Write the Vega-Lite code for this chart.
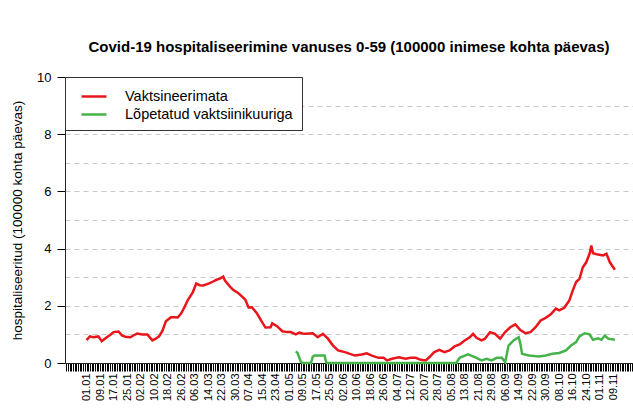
{
  "$schema": "https://vega.github.io/schema/vega-lite/v6.json",
  "width": 568,
  "height": 286,
  "autosize": {"type": "none"},
  "padding": {"left": 65, "top": 77, "right": 0, "bottom": 49},
  "background": "white",
  "title": {
    "text": "Covid-19 hospitaliseerimine vanuses 0-59 (100000 inimese kohta päevas)",
    "fontSize": 15,
    "fontWeight": "bold",
    "font": "Liberation Sans",
    "color": "black",
    "anchor": "middle",
    "offset": 16
  },
  "config": {
    "view": {"stroke": null},
    "font": "Liberation Sans"
  },
  "datasets": {
    "u": [
      {"d": "2021-01-01", "v": 0.8}, {"d": "2021-01-03", "v": 0.93}, {"d": "2021-01-05", "v": 0.9},
      {"d": "2021-01-08", "v": 0.93}, {"d": "2021-01-10", "v": 0.76}, {"d": "2021-01-13", "v": 0.9},
      {"d": "2021-01-15", "v": 0.98}, {"d": "2021-01-17", "v": 1.08}, {"d": "2021-01-20", "v": 1.1},
      {"d": "2021-01-22", "v": 0.96}, {"d": "2021-01-24", "v": 0.92}, {"d": "2021-01-27", "v": 0.9},
      {"d": "2021-01-29", "v": 0.97}, {"d": "2021-01-31", "v": 1.03}, {"d": "2021-02-03", "v": 1.0},
      {"d": "2021-02-06", "v": 1.0}, {"d": "2021-02-09", "v": 0.79}, {"d": "2021-02-11", "v": 0.85},
      {"d": "2021-02-13", "v": 0.93}, {"d": "2021-02-15", "v": 1.13}, {"d": "2021-02-17", "v": 1.46},
      {"d": "2021-02-20", "v": 1.6}, {"d": "2021-02-22", "v": 1.6}, {"d": "2021-02-24", "v": 1.59},
      {"d": "2021-02-26", "v": 1.73}, {"d": "2021-02-28", "v": 1.95}, {"d": "2021-03-02", "v": 2.2},
      {"d": "2021-03-05", "v": 2.48}, {"d": "2021-03-07", "v": 2.78}, {"d": "2021-03-09", "v": 2.72},
      {"d": "2021-03-11", "v": 2.71}, {"d": "2021-03-13", "v": 2.75}, {"d": "2021-03-15", "v": 2.79},
      {"d": "2021-03-17", "v": 2.85}, {"d": "2021-03-19", "v": 2.91}, {"d": "2021-03-21", "v": 2.95},
      {"d": "2021-03-23", "v": 3.02}, {"d": "2021-03-24", "v": 2.88}, {"d": "2021-03-27", "v": 2.67},
      {"d": "2021-03-29", "v": 2.55}, {"d": "2021-04-01", "v": 2.44}, {"d": "2021-04-03", "v": 2.33},
      {"d": "2021-04-05", "v": 2.22}, {"d": "2021-04-07", "v": 1.94}, {"d": "2021-04-09", "v": 1.95},
      {"d": "2021-04-12", "v": 1.73}, {"d": "2021-04-15", "v": 1.43}, {"d": "2021-04-17", "v": 1.24},
      {"d": "2021-04-20", "v": 1.25}, {"d": "2021-04-21", "v": 1.39}, {"d": "2021-04-24", "v": 1.28},
      {"d": "2021-04-27", "v": 1.11}, {"d": "2021-04-30", "v": 1.08}, {"d": "2021-05-02", "v": 1.08},
      {"d": "2021-05-05", "v": 1.0}, {"d": "2021-05-07", "v": 1.06}, {"d": "2021-05-09", "v": 1.03},
      {"d": "2021-05-11", "v": 1.02}, {"d": "2021-05-13", "v": 1.03}, {"d": "2021-05-15", "v": 1.04},
      {"d": "2021-05-18", "v": 0.9}, {"d": "2021-05-21", "v": 1.02}, {"d": "2021-05-24", "v": 0.85},
      {"d": "2021-05-27", "v": 0.61}, {"d": "2021-05-30", "v": 0.44}, {"d": "2021-06-03", "v": 0.38},
      {"d": "2021-06-06", "v": 0.32}, {"d": "2021-06-09", "v": 0.26}, {"d": "2021-06-13", "v": 0.3},
      {"d": "2021-06-16", "v": 0.34}, {"d": "2021-06-19", "v": 0.26}, {"d": "2021-06-23", "v": 0.18},
      {"d": "2021-06-26", "v": 0.18}, {"d": "2021-06-28", "v": 0.09}, {"d": "2021-07-01", "v": 0.15},
      {"d": "2021-07-05", "v": 0.2}, {"d": "2021-07-09", "v": 0.15}, {"d": "2021-07-12", "v": 0.18},
      {"d": "2021-07-15", "v": 0.18}, {"d": "2021-07-18", "v": 0.11}, {"d": "2021-07-21", "v": 0.09},
      {"d": "2021-07-23", "v": 0.2}, {"d": "2021-07-26", "v": 0.38}, {"d": "2021-07-29", "v": 0.46},
      {"d": "2021-08-01", "v": 0.38}, {"d": "2021-08-04", "v": 0.44}, {"d": "2021-08-07", "v": 0.58},
      {"d": "2021-08-10", "v": 0.65}, {"d": "2021-08-13", "v": 0.79}, {"d": "2021-08-16", "v": 0.9},
      {"d": "2021-08-18", "v": 1.02}, {"d": "2021-08-20", "v": 0.88}, {"d": "2021-08-23", "v": 0.79},
      {"d": "2021-08-25", "v": 0.85}, {"d": "2021-08-28", "v": 1.08}, {"d": "2021-08-31", "v": 1.02},
      {"d": "2021-09-03", "v": 0.85}, {"d": "2021-09-06", "v": 1.08}, {"d": "2021-09-09", "v": 1.25},
      {"d": "2021-09-12", "v": 1.35}, {"d": "2021-09-15", "v": 1.15}, {"d": "2021-09-18", "v": 1.04},
      {"d": "2021-09-21", "v": 1.08}, {"d": "2021-09-24", "v": 1.25}, {"d": "2021-09-27", "v": 1.49},
      {"d": "2021-09-30", "v": 1.58}, {"d": "2021-10-03", "v": 1.7}, {"d": "2021-10-06", "v": 1.9},
      {"d": "2021-10-08", "v": 1.84}, {"d": "2021-10-11", "v": 1.93}, {"d": "2021-10-14", "v": 2.19},
      {"d": "2021-10-16", "v": 2.53}, {"d": "2021-10-18", "v": 2.83}, {"d": "2021-10-20", "v": 2.94},
      {"d": "2021-10-22", "v": 3.35}, {"d": "2021-10-24", "v": 3.52}, {"d": "2021-10-26", "v": 3.82},
      {"d": "2021-10-27", "v": 4.11}, {"d": "2021-10-28", "v": 3.84}, {"d": "2021-10-31", "v": 3.79},
      {"d": "2021-11-03", "v": 3.76}, {"d": "2021-11-05", "v": 3.82}, {"d": "2021-11-07", "v": 3.52},
      {"d": "2021-11-10", "v": 3.26}
    ],
    "f": [
      {"d": "2021-05-05", "v": 0.41}, {"d": "2021-05-06", "v": 0.35}, {"d": "2021-05-08", "v": 0.04},
      {"d": "2021-05-09", "v": 0}, {"d": "2021-05-14", "v": 0}, {"d": "2021-05-15", "v": 0.22},
      {"d": "2021-05-16", "v": 0.26}, {"d": "2021-05-22", "v": 0.26}, {"d": "2021-05-23", "v": 0.02},
      {"d": "2021-05-24", "v": 0}, {"d": "2021-08-08", "v": 0}, {"d": "2021-08-10", "v": 0.18},
      {"d": "2021-08-15", "v": 0.3}, {"d": "2021-08-20", "v": 0.18}, {"d": "2021-08-23", "v": 0.09},
      {"d": "2021-08-26", "v": 0.15}, {"d": "2021-08-29", "v": 0.09}, {"d": "2021-09-01", "v": 0.18},
      {"d": "2021-09-04", "v": 0.18}, {"d": "2021-09-06", "v": 0.03}, {"d": "2021-09-08", "v": 0.61},
      {"d": "2021-09-11", "v": 0.79}, {"d": "2021-09-14", "v": 0.9}, {"d": "2021-09-15", "v": 0.67},
      {"d": "2021-09-16", "v": 0.32}, {"d": "2021-09-20", "v": 0.26}, {"d": "2021-09-26", "v": 0.23},
      {"d": "2021-09-30", "v": 0.26}, {"d": "2021-10-04", "v": 0.32}, {"d": "2021-10-08", "v": 0.35},
      {"d": "2021-10-12", "v": 0.44}, {"d": "2021-10-15", "v": 0.61}, {"d": "2021-10-18", "v": 0.73},
      {"d": "2021-10-20", "v": 0.93}, {"d": "2021-10-23", "v": 1.04}, {"d": "2021-10-26", "v": 1.0},
      {"d": "2021-10-28", "v": 0.81}, {"d": "2021-10-31", "v": 0.86}, {"d": "2021-11-02", "v": 0.81},
      {"d": "2021-11-04", "v": 0.96}, {"d": "2021-11-06", "v": 0.85}, {"d": "2021-11-10", "v": 0.81}
    ]
  },
  "encoding": {
    "x": {
      "field": "d",
      "type": "temporal",
      "scale": {
        "type": "utc",
        "domain": [
          {"year": 2020, "month": 12, "date": 19, "hours": 6, "utc": true},
          {"year": 2021, "month": 11, "date": 20, "hours": 17, "utc": true}
        ]
      },
      "axis": {
        "title": null,
        "grid": false,
        "ticks": true,
        "tickCount": 400,
        "labelOverlap": false,
        "labelBound": false,
        "labelFlush": false,
        "labelAngle": -90,
        "labelFontSize": 11,
        "labelColor": "black",
        "labelPadding": 2,
        "tickSize": 8,
        "tickWidth": 1,
        "tickColor": "black",
        "domainColor": "#222222",
        "labelExpr": "(datum.value >= utc(2021,0,1) && datum.value <= utc(2021,10,10) && round((datum.value - utc(2021,0,1)) / 86400000) % 8 == 0) ? utcFormat(datum.value, '%d.%m') : ''"
      }
    },
    "y": {
      "field": "v",
      "type": "quantitative",
      "scale": {"domain": [0, 10], "nice": false},
      "axis": {
        "title": "hospitaliseeritud (100000 kohta päevas)",
        "titleFontSize": 13.5,
        "titleFontWeight": "normal",
        "titleColor": "black",
        "titleX": -48,
        "titleY": 143,
        "titleAngle": -90,
        "titleAlign": "center",
        "titleBaseline": "middle",
        "values": [0, 1, 2, 3, 4, 5, 6, 7, 8, 9, 10],
        "labelExpr": "datum.value % 2 == 0 ? datum.label : ''",
        "labelFontSize": 13,
        "labelColor": "black",
        "labelPadding": 6,
        "tickSize": 8,
        "tickColor": "black",
        "domainColor": "#222222",
        "tickOpacity": {"condition": {"test": "datum.value % 2 == 1", "value": 0}, "value": 1},
        "grid": true,
        "gridColor": "#c8c8c8",
        "gridDash": [5, 4],
        "gridOpacity": {"condition": {"test": "datum.value == 0 || datum.value == 10", "value": 0}, "value": 1}
      }
    }
  },
  "layer": [
    {
      "data": {"name": "u"},
      "mark": {"type": "line", "strokeWidth": 2.5},
      "encoding": {
        "color": {
          "datum": "Vaktsineerimata",
          "type": "nominal",
          "scale": {"domain": ["Vaktsineerimata", "Lõpetatud vaktsiinikuuriga"], "range": ["#e8161b", "#46b34a"]},
          "legend": {
            "title": null,
            "orient": "none",
            "legendX": 0,
            "legendY": 0,
            "fillColor": "white",
            "strokeColor": "#333333",
            "padding": 8.5,
            "symbolType": "M-1.316,0H1.316",
            "symbolSize": 361,
            "symbolStrokeWidth": 2.5,
            "symbolOffset": 9.5,
            "labelFontSize": 14.5,
            "labelLimit": 400,
            "labelColor": "black",
            "labelOffset": 20,
            "rowPadding": 0
          }
        }
      }
    },
    {
      "data": {"name": "f"},
      "mark": {"type": "line", "strokeWidth": 2.5},
      "encoding": {
        "color": {"datum": "Lõpetatud vaktsiinikuuriga", "type": "nominal"}
      }
    }
  ]
}
